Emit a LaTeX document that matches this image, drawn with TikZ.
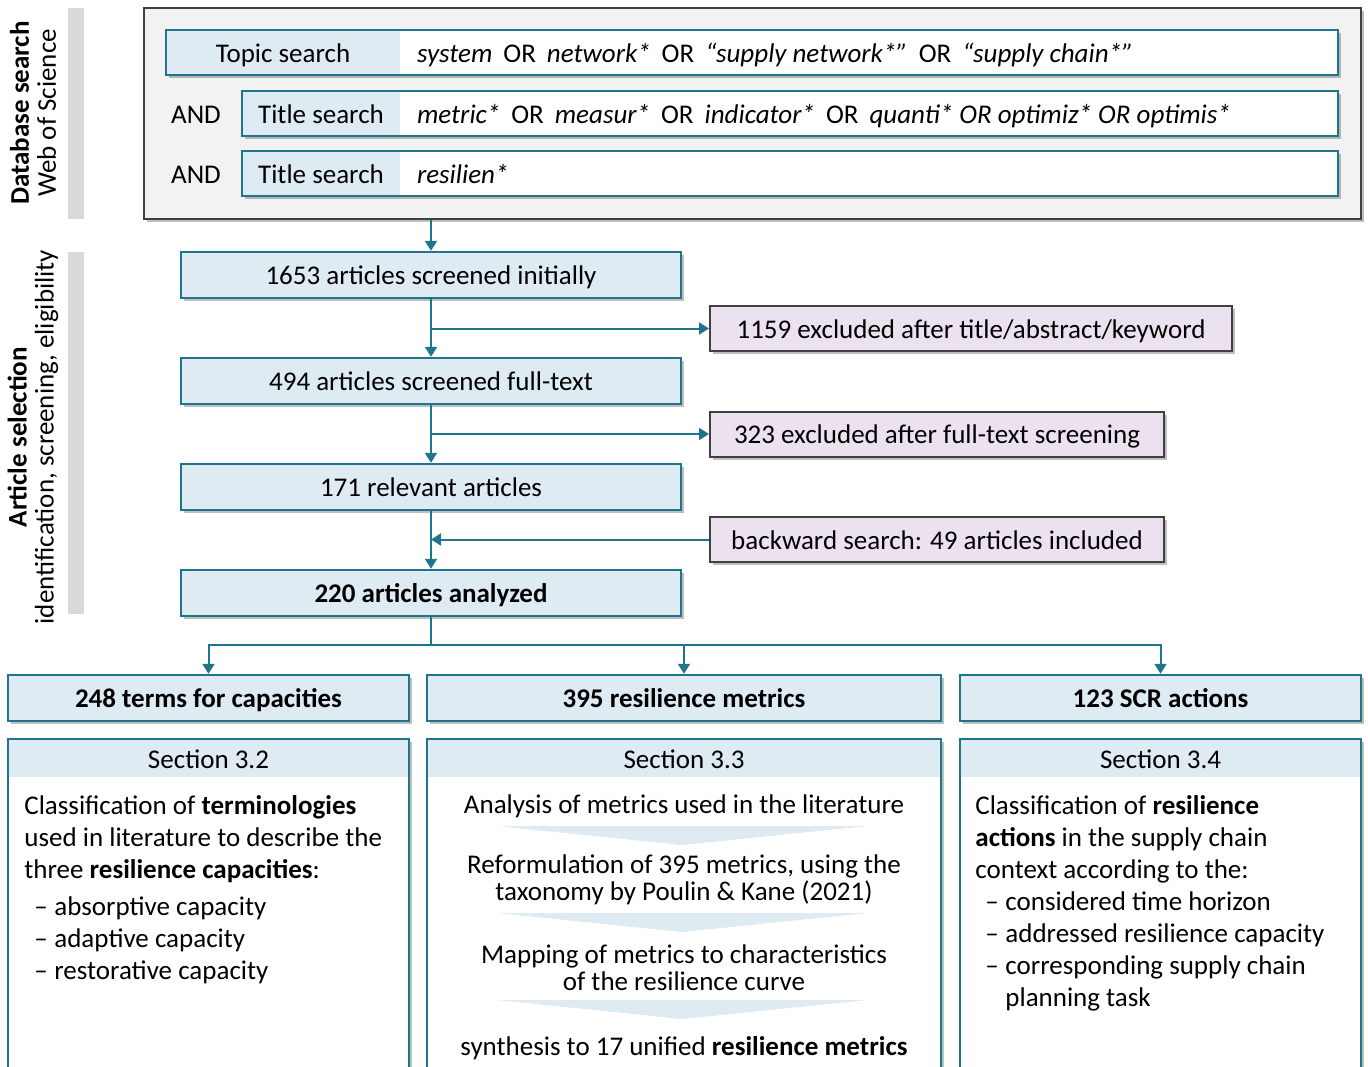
\documentclass[tikz,border=0pt]{standalone}
\usepackage{fontspec}
\setmainfont{Carlito}
\usetikzlibrary{positioning, arrows.meta, shadows, calc}

\definecolor{flowteal}{RGB}{31,118,140}
\definecolor{flowblue}{RGB}{222,235,243}
\definecolor{flowpink}{RGB}{236,225,238}
\definecolor{framegray}{RGB}{242,242,242}
\definecolor{framedark}{RGB}{64,64,64}
\definecolor{bargray}{RGB}{217,217,217}

\newcommand{\flowfont}{\fontsize{13.5}{16}\selectfont}
\newcommand{\tightfont}{\fontsize{13.5}{13.5}\selectfont}
\newcommand{\listdash}{\hspace*{5pt}\makebox[10pt][l]{–}}
\newcommand{\orword}{\hspace{5.5pt}OR\hspace{5.5pt}}

\begin{document}
\begin{tikzpicture}[x=0.5pt, y=-0.5pt,
    every node/.style={font=\flowfont},
    oneline/.style={text height=11.5pt, text depth=2pt},
    shadowed/.style={drop shadow={shadow xshift=1.5pt, shadow yshift=-1.5pt, opacity=0.25, fill=black}},
    sidebar/.style={fill=bargray, minimum width=8pt, inner sep=0pt},
    dbframe/.style={draw=framedark, fill=framegray, line width=0.9pt, shadowed, inner sep=0pt},
    qframe/.style={draw=flowteal, fill=white, line width=1.2pt, shadowed, minimum height=22.5pt, inner sep=0pt,
        path picture={\fill[flowblue] (path picture bounding box.south west) rectangle ([xshift=#1]path picture bounding box.north west);}},
    flowbox/.style={draw=flowteal, fill=flowblue, line width=1.2pt, shadowed, minimum height=23pt, inner sep=0pt, oneline},
    exbox/.style={draw=framedark, fill=flowpink, line width=1pt, shadowed, minimum height=22.5pt, inner sep=0pt, oneline},
    secbox/.style={draw=flowteal, fill=white, line width=1.2pt, shadowed, inner sep=0pt,
        path picture={\fill[flowblue] (path picture bounding box.north west) rectangle ([yshift=-19pt]path picture bounding box.north east);}},
    link/.style={draw=flowteal, line width=1pt, -{Triangle[width=6pt,length=5pt]}},
    chevron/.style={fill=flowblue}]

  \useasboundingbox (0,0) rectangle (1368,1066);

  % Side labels
  \node[sidebar, minimum height=105.5pt] (bar1) at (76,113.5) {};
  \node[rotate=90, align=center, font=\tightfont] (lab1) at (33,113) {\textbf{Database search}\\Web of Science};
  \node[sidebar, minimum height=181pt] (bar2) at (76,433) {};
  \node[rotate=90, align=center, font=\tightfont] (lab2) at (33,437) {\textbf{Article selection}\\identification, screening, eligibility};

  % Database search
  \node[dbframe, minimum width=608.5pt, minimum height=105.5pt] (db) at (752.5,113.5) {};

  \node[qframe=117pt, minimum width=586pt] (q1) at (752,52.5) {};
  \node[oneline] (k1) at (283,52.5) {Topic search};
  \node[oneline, anchor=west] (t1) at (410,52.5) {\textit{system}\orword\textit{network*}\orword\textit{“supply network*”}\orword\textit{“supply chain*”}};

  \node[oneline] (and2) at (196,113.5) {AND};
  \node[qframe=79pt, minimum width=548pt] (q2) at (790,113.5) {};
  \node[oneline] (k2) at (321,113.5) {Title search};
  \node[oneline, anchor=west] (t2) at (410,113.5) {\textit{metric*}\orword\textit{measur*}\orword\textit{indicator*}\orword\textit{quanti* OR optimiz* OR optimis*}};

  \node[oneline] (and3) at (196,173.5) {AND};
  \node[qframe=79pt, minimum width=548pt] (q3) at (790,173.5) {};
  \node[oneline] (k3) at (321,173.5) {Title search};
  \node[oneline, anchor=west] (t3) at (410,173.5) {\textit{resilien*}};

  % Article selection
  \node[flowbox, minimum width=250pt] (n1653) at (431,275) {1653 articles screened initially};
  \node[flowbox, minimum width=250pt] (n494) at (431,381) {494 articles screened full-text};
  \node[flowbox, minimum width=250pt] (n171) at (431,487) {171 relevant articles};
  \node[flowbox, minimum width=250pt, font=\flowfont\bfseries] (n220) at (431,593) {220 articles analyzed};

  \node[exbox, minimum width=261pt] (ex1159) at (971,328.5) {1159 excluded after title/abstract/keyword};
  \node[exbox, minimum width=227pt] (ex323) at (937,434) {323 excluded after full-text screening};
  \node[exbox, minimum width=227pt] (back49) at (937,539.5) {backward search: 49 articles included};

  \draw[link] (db.south -| n1653.north) -- (n1653.north);
  \draw[link] (n1653.south) -- (n494.north);
  \draw[link] (n1653.south |- ex1159.west) -- (ex1159.west);
  \draw[link] (n494.south) -- (n171.north);
  \draw[link] (n494.south |- ex323.west) -- (ex323.west);
  \draw[link] (n171.south) -- (n220.north);
  \draw[link] (back49.west) -- (back49.west -| n171.south);

  % Results
  \node[flowbox, minimum width=200.5pt, font=\flowfont\bfseries] (out1) at (208.5,698) {248 terms for capacities};
  \node[flowbox, minimum width=257pt, font=\flowfont\bfseries] (out2) at (684,698) {395 resilience metrics};
  \node[flowbox, minimum width=200.5pt, font=\flowfont\bfseries] (out3) at (1160.5,698) {123 SCR actions};

  \coordinate (split) at (431,645);
  \draw[link] (n220.south) -- (split) -| (out1.north);
  \draw[link] (split) -| (out3.north);
  \draw[link] (split -| out2.north) -- (out2.north);

  % Sections
  \node[secbox, minimum width=200.5pt, minimum height=180pt] (sec1) at (208.5,919) {};
  \node[secbox, minimum width=257pt, minimum height=180pt] (sec2) at (684,919) {};
  \node[secbox, minimum width=200.5pt, minimum height=180pt] (sec3) at (1160.5,919) {};
  \node[oneline] (h1) at (208.5,759) {Section 3.2};
  \node[oneline] (h2) at (684,759) {Section 3.3};
  \node[oneline] (h3) at (1160.5,759) {Section 3.4};

  \node[anchor=north west, align=left, inner sep=0pt] (b1) at (24,795) {Classification of \textbf{terminologies}\\
    used in literature to describe the\\
    three \textbf{resilience capacities}:\\[2.5pt]
    \listdash absorptive capacity\\
    \listdash adaptive capacity\\
    \listdash restorative capacity};

  \node[oneline] (m1) at (684,804) {Analysis of metrics used in the literature};
  \node[align=center, font=\tightfont] (m2) at (684,880) {Reformulation of 395 metrics, using the\\taxonomy by Poulin \& Kane (2021)};
  \node[align=center, font=\tightfont] (m3) at (684,967.5) {Mapping of metrics to characteristics\\of the resilience curve};
  \node[oneline] (m4) at (684,1046) {synthesis to 17 unified \textbf{resilience metrics}};
  \fill[chevron] (497,826) -- (867,826) -- (682,845) -- cycle;
  \fill[chevron] (497,913) -- (867,913) -- (682,932) -- cycle;
  \fill[chevron] (497,1000) -- (867,1000) -- (682,1019) -- cycle;

  \node[anchor=north west, align=left, inner sep=0pt] (b3) at (975,795) {Classification of \textbf{resilience}\\
    \textbf{actions} in the supply chain\\
    context according to the:\\
    \listdash considered time horizon\\
    \listdash addressed resilience capacity\\
    \listdash corresponding supply chain\\
    \hspace*{15pt}planning task};
\end{tikzpicture}
\end{document}
